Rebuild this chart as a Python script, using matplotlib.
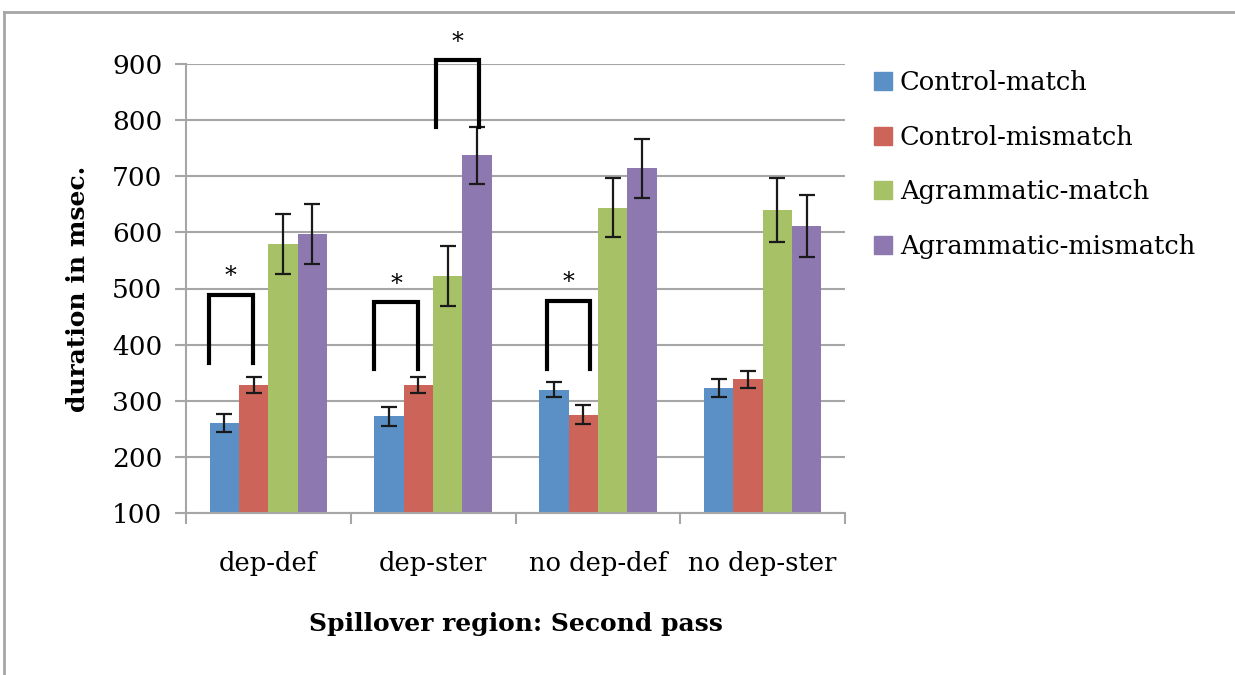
import numpy as np
import matplotlib
matplotlib.use("Agg")
import matplotlib.pyplot as plt
from matplotlib.patches import Patch
from matplotlib.lines import Line2D

plt.rcParams["font.family"] = ["DejaVu Serif"]

# data (ms)
regions = ["dep-def", "dep-ster", "no dep-def", "no dep-ster"]
series = ["Control-match", "Control-mismatch", "Agrammatic-match", "Agrammatic-mismatch"]
control_match = [260, 272, 320, 323]
control_mismatch = [328, 328, 275, 338]
agram_match = [579, 522, 644, 640]
agram_mismatch = [597, 737, 714, 612]
err_control_match = [16, 17, 14, 16]
err_control_mismatch = [14, 14, 17, 15]
err_agram_match = [53, 54, 52, 57]
err_agram_mismatch = [53, 50, 53, 55]
colors = ["#5B90C6", "#CC6459", "#A7C266", "#8E78B0"]

values = [control_match, control_mismatch, agram_match, agram_mismatch]
errors = [err_control_match, err_control_mismatch, err_agram_match, err_agram_mismatch]

# significance brackets: (group, left offset, right offset, top, left leg, right leg)
brackets = [
    (0, -0.36, -0.095, 489, 367, 367),
    (1, -0.36, -0.09, 476, 357, 357),
    (2, -0.31, -0.045, 478, 357, 357),
    (1, 0.02, 0.28, 907, 788, 788),
]

fig = plt.figure(figsize=(12.35, 6.75), dpi=100)
ax = fig.add_axes([186 / 1235, 1 - 513 / 675, (845 - 186) / 1235, (513 - 64) / 675])

x = np.arange(len(regions))
w = 0.178
for i, (vals, errs) in enumerate(zip(values, errors)):
    ax.bar(x + (i - 1.5) * w, np.array(vals) - 100, w, bottom=100, color=colors[i],
           label=series[i], zorder=2)
    ax.errorbar(x + (i - 1.5) * w, vals, yerr=errs, fmt="none", ecolor="#1a1a1a",
                elinewidth=1.6, capsize=6, capthick=1.6, zorder=3)

for g, l, r, top, ll, rl in brackets:
    ax.plot([g + l, g + l, g + r, g + r], [ll, top, top, rl], color="black", lw=3,
            solid_joinstyle="miter", clip_on=False, zorder=4)
    ax.text(g + (l + r) / 2, top + 32, "*", ha="center", va="center", fontsize=17,
            clip_on=False)

ax.set_xlim(-0.5, 3.5)
ax.set_ylim(100, 900)
ax.set_yticks(range(100, 1000, 100))
ax.yaxis.grid(True, color="#a6a6a6", lw=1.5, zorder=0)
ax.set_axisbelow(True)
for s in ["top", "right"]:
    ax.spines[s].set_visible(False)
for s in ["left", "bottom"]:
    ax.spines[s].set_color("#a6a6a6")
    ax.spines[s].set_linewidth(1.5)
ax.set_xticks(np.arange(-0.5, 4, 1))
ax.set_xticklabels([])
ax.set_xticks(x, minor=True)
ax.set_xticklabels(regions, minor=True, fontsize=18.5)
ax.tick_params(axis="x", which="minor", length=0, pad=27)
ax.tick_params(axis="x", which="major", length=8, width=1.5, color="#a6a6a6")
ax.tick_params(axis="y", length=8, width=1.5, color="#a6a6a6", labelsize=19, pad=9)

ax.set_ylabel("duration in msec.", fontsize=18, fontweight="bold", labelpad=16)
ax.set_xlabel("Spillover region: Second pass", fontsize=18, fontweight="bold",
              labelpad=26)

handles = [Patch(color=c, label=s) for c, s in zip(colors, series)]
fig.legend(handles=handles, loc="upper left", bbox_to_anchor=(864 / 1235, 1 - 60 / 675),
           frameon=False, fontsize=18.5, handlelength=0.7, handleheight=0.7,
           handletextpad=0.3, labelspacing=1.15, borderaxespad=0)

# outer frame
fig.add_artist(Line2D([4 / 1235, 1], [1 - 12 / 675, 1 - 12 / 675], color="#a6a6a6", lw=2))
fig.add_artist(Line2D([4 / 1235, 4 / 1235], [0, 1 - 12 / 675], color="#a6a6a6", lw=2))

fig.savefig("out.png", dpi=100)
